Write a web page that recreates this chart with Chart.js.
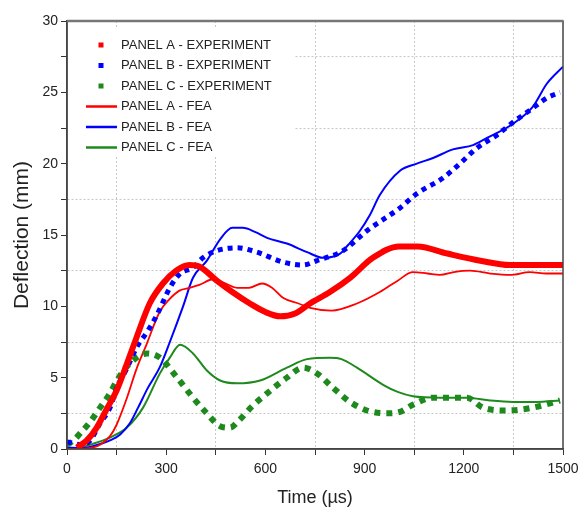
<!DOCTYPE html>
<html>
<head>
<meta charset="utf-8">
<script src="https://cdn.jsdelivr.net/npm/chart.js@4.4.1/dist/chart.umd.min.js"></script>
<style>
  html, body { margin: 0; background: #fff; }
  #caja { width: 578px; height: 511px; }
</style>
</head>
<body>
<div id="caja"><canvas id="deflexion"></canvas></div>
<script>
// valores (tiempo en us, deflexion en mm)
const etiquetas = ['PANEL A - EXPERIMENT', 'PANEL B - EXPERIMENT', 'PANEL C - EXPERIMENT',
                   'PANEL A - FEA', 'PANEL B - FEA', 'PANEL C - FEA'];

const tA_exp = [30, 60, 90, 120, 150, 180, 210, 250, 290, 330, 370, 400, 453, 500, 553, 600, 645, 690, 735, 795, 856, 925, 1005, 1060, 1150, 1250, 1340, 1420, 1500];
const yA_exp = [0.1, 0.6, 1.5, 2.8, 4.1, 5.9, 7.8, 10.2, 11.6, 12.5, 12.9, 12.8, 11.8, 11.0, 10.2, 9.6, 9.3, 9.5, 10.2, 11.0, 12.0, 13.4, 14.2, 14.2, 13.7, 13.2, 12.9, 12.9, 12.9];

const tB_exp = [0, 20, 40, 70, 100, 130, 151, 180, 210, 245, 272, 311, 342, 380, 411, 453, 514, 574, 653, 714, 756, 835, 907, 1007, 1058, 1137, 1188, 1240, 1300, 1349, 1409, 1451, 1491];
const yB_exp = [0.5, 0.4, 0.3, 0.6, 1.8, 2.9, 4.3, 5.6, 7.1, 8.3, 9.4, 11.3, 12.3, 12.7, 13.4, 13.9, 14.1, 13.8, 13.1, 12.9, 13.2, 13.9, 15.3, 16.9, 17.9, 19.0, 20.0, 21.1, 22.0, 22.9, 23.9, 24.6, 25.0];

const tC_exp = [0, 20, 40, 70, 100, 130, 151, 190, 242, 281, 333, 381, 423, 463, 493, 520, 560, 605, 665, 714, 756, 804, 856, 907, 968, 1007, 1046, 1107, 1160, 1210, 1258, 1330, 1409, 1491];
const yC_exp = [0.3, 0.6, 1.1, 1.9, 2.9, 3.9, 4.8, 6.0, 6.7, 6.4, 5.0, 3.6, 2.5, 1.6, 1.5, 2.0, 3.0, 3.9, 5.0, 5.7, 5.3, 4.3, 3.3, 2.7, 2.5, 2.6, 3.1, 3.6, 3.6, 3.6, 2.9, 2.7, 2.9, 3.4];

const tA_fea = [0, 60, 100, 130, 150, 180, 210, 240, 280, 310, 340, 372, 400, 442, 470, 514, 550, 590, 620, 653, 700, 735, 800, 877, 946, 1000, 1046, 1090, 1128, 1170, 1219, 1280, 1340, 1400, 1450, 1500];
const yA_fea = [0, 0.05, 0.3, 0.9, 1.7, 3.5, 5.6, 7.3, 9.6, 10.5, 11.1, 11.3, 11.5, 11.9, 11.7, 11.3, 11.3, 11.6, 11.3, 10.6, 10.2, 9.9, 9.7, 10.2, 11.0, 11.8, 12.4, 12.3, 12.2, 12.4, 12.5, 12.3, 12.2, 12.4, 12.3, 12.3];

const tB_fea = [0, 40, 70, 100, 130, 160, 190, 215, 245, 280, 311, 351, 381, 423, 463, 500, 532, 570, 605, 665, 726, 774, 826, 850, 886, 916, 946, 1007, 1058, 1107, 1167, 1228, 1270, 1349, 1409, 1451, 1500];
const yB_fea = [0.1, 0.05, 0.15, 0.35, 0.6, 1.0, 1.8, 2.9, 4.3, 5.7, 7.5, 10.0, 12.0, 13.2, 14.7, 15.5, 15.5, 15.2, 14.8, 14.4, 13.8, 13.4, 13.7, 14.3, 15.3, 16.4, 17.8, 19.5, 20.0, 20.4, 21.0, 21.3, 21.8, 22.8, 24.0, 25.6, 26.8];

const tC_fea = [0, 40, 70, 130, 181, 230, 281, 311, 342, 381, 423, 463, 514, 584, 665, 726, 795, 830, 877, 956, 1000, 1046, 1128, 1210, 1280, 1349, 1420, 1491];
const yC_fea = [0, 0.1, 0.3, 0.8, 1.5, 2.9, 5.3, 6.4, 7.3, 6.7, 5.5, 4.8, 4.6, 4.8, 5.7, 6.3, 6.4, 6.3, 5.7, 4.5, 4.0, 3.7, 3.6, 3.6, 3.4, 3.3, 3.3, 3.4];

const rojo = '#ff0000', azul = '#0000ff', verde = '#1e8a1e';

function puntos(ts, ys) {
  return ts.map((t, i) => ({ x: t, y: ys[i] }));
}

// leyenda dibujada a mano, con fondo blanco sobre la rejilla
const leyenda = {
  id: 'leyenda',
  afterDraw(chart) {
    const c = chart.ctx, a = chart.chartArea;
    c.save();
    c.fillStyle = '#fff';
    c.fillRect(a.left + 1, 27, 226, 129);
    c.font = '13px "Liberation Sans", Arial, sans-serif';
    c.textBaseline = 'middle';
    chart.data.datasets.forEach((ds, i) => {
      const y = 45 + i * 20.5;
      if (i < 3) {
        c.fillStyle = ds.borderColor;
        c.fillRect(98.5, y - 2.5, 5, 5);
      } else {
        c.strokeStyle = ds.borderColor;
        c.lineWidth = 2.5;
        c.beginPath(); c.moveTo(86, y); c.lineTo(117, y); c.stroke();
      }
      c.fillStyle = '#222';
      c.fillText(ds.label, 121, y);
    });
    // marco
    c.strokeStyle = '#444';
    c.lineWidth = 1.5;
    c.strokeRect(a.left, a.top, a.right - a.left, a.bottom - a.top);
    c.strokeStyle = '#777';
    c.lineWidth = 2.5;
    c.beginPath(); c.moveTo(a.left, a.top); c.lineTo(a.right, a.top); c.stroke();
    c.restore();
  }
};

Chart.defaults.font.family = '"Liberation Sans", Arial, sans-serif';
Chart.defaults.color = '#222';

const ctx = document.getElementById('deflexion');

new Chart(ctx, {
  type: 'line',
  data: {
    datasets: [
      { label: etiquetas[0], data: puntos(tA_exp, yA_exp), borderColor: rojo, borderWidth: 6 },
      { label: etiquetas[1], data: puntos(tB_exp, yB_exp), borderColor: azul, borderWidth: 5, borderDash: [5, 5] },
      { label: etiquetas[2], data: puntos(tC_exp, yC_exp), borderColor: verde, borderWidth: 6, borderDash: [6, 6] },
      { label: etiquetas[3], data: puntos(tA_fea, yA_fea), borderColor: rojo, borderWidth: 1.8 },
      { label: etiquetas[4], data: puntos(tB_fea, yB_fea), borderColor: azul, borderWidth: 2 },
      { label: etiquetas[5], data: puntos(tC_fea, yC_fea), borderColor: verde, borderWidth: 2 }
    ]
  },
  options: {
    responsive: true,
    maintainAspectRatio: false,
    animation: false,
    elements: {
      point: { radius: 0 },
      line: { cubicInterpolationMode: 'monotone', fill: false }
    },
    layout: { padding: { left: 6, top: 21, right: 15, bottom: 0 } },
    plugins: {
      legend: { display: false },
      tooltip: { enabled: false }
    },
    scales: {
      x: {
        type: 'linear',
        min: 0,
        max: 1500,
        afterFit: s => { s.height = 62; s.paddingRight = 0; s.paddingLeft = 0; },
        ticks: {
          stepSize: 150,
          autoSkip: false,
          maxRotation: 0,
          padding: 6,
          font: { size: 14 },
          callback: v => (v % 300 === 0 ? v : '')
        },
        grid: {
          color: c => (c.tick && c.tick.value % 300 !== 0 ? '#c8c8c8' : 'rgba(0,0,0,0)'),
          tickColor: '#333',
          tickLength: 6
        },
        border: { color: '#444', width: 1.5, dash: [2, 2] },
        title: {
          display: true,
          text: 'Time (µs)',
          font: { size: 18 },
          padding: { top: 4, bottom: 2 }
        }
      },
      y: {
        min: 0,
        max: 30,
        afterFit: s => { s.width = 61; },
        ticks: {
          stepSize: 2.5,
          autoSkip: false,
          padding: 3,
          font: { size: 14 },
          callback: v => (v % 5 === 0 ? v : '')
        },
        grid: {
          color: c => (c.tick && c.tick.value % 5 !== 0 ? '#c8c8c8' : 'rgba(0,0,0,0)'),
          tickColor: '#333',
          tickLength: 6
        },
        border: { color: '#444', width: 1.5, dash: [2, 2] },
        title: {
          display: true,
          text: 'Deflection (mm)',
          font: { size: 21 },
          padding: { top: 4, bottom: 2 }
        }
      }
    }
  },
  plugins: [leyenda]
});
</script>
</body>
</html>
